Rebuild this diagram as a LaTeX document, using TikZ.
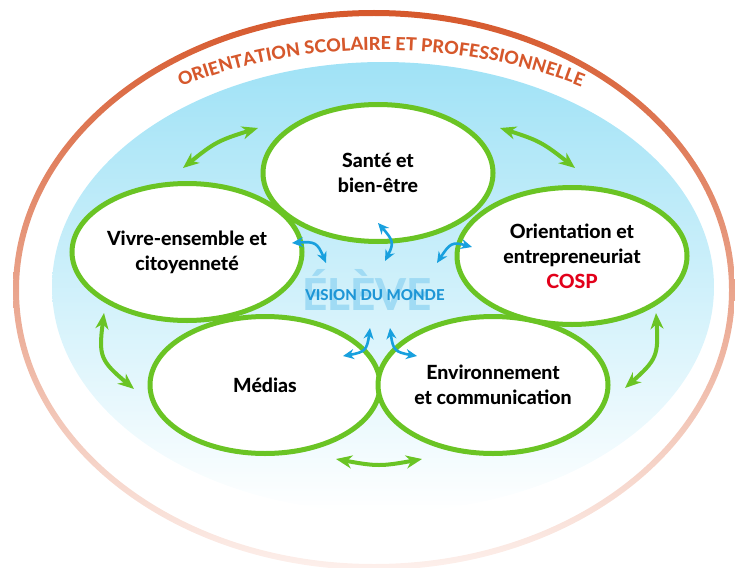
\documentclass[tikz,border=0pt]{standalone}
\usepackage{fontspec}
\setmainfont{Lato}
\IfFontExistsTF{Lato-Heavy.ttf}{\newfontfamily\heavysans{Lato-Heavy.ttf}%
  \def\themesize{19.5}\def\arcsize{18}\def\visionsize{15}\def\elevesize{44}}{%
 \IfFontExistsTF{Lato-Bold.ttf}{\newfontfamily\heavysans{Lato-Bold.ttf}%
  \def\themesize{19.5}\def\arcsize{18.5}\def\visionsize{15.5}\def\elevesize{45}}{%
  \newfontfamily\heavysans{Lato}[FakeBold=2]%
  \def\themesize{19.5}\def\arcsize{18.5}\def\visionsize{15.5}\def\elevesize{45}}}
\usetikzlibrary{shapes.geometric,arrows.meta,decorations.text,bending}
\definecolor{ringtop}{RGB}{214,88,44}
\definecolor{ringmid}{RGB}{236,160,136}
\definecolor{ringbot}{RGB}{253,240,236}
\definecolor{skytop}{RGB}{160,226,246}
\definecolor{skymid}{RGB}{208,241,251}
\definecolor{leaf}{RGB}{106,196,36}
\definecolor{arrowblue}{RGB}{24,160,222}
\definecolor{elevecol}{RGB}{160,219,244}
\definecolor{visionblue}{RGB}{30,150,214}
\definecolor{cospred}{RGB}{226,0,26}
\definecolor{ringtext}{RGB}{214,88,44}
\begin{document}
\begin{tikzpicture}[x=1pt,y=-1pt,
  theme/.style={ellipse, draw=leaf, line width=5pt, fill=white,
    minimum width=230pt, minimum height=137pt, inner sep=0pt, align=center,
    font=\heavysans\fontsize{\themesize}{25}\selectfont},
  linkarrow/.style={draw=leaf, line width=4pt,
    {Stealth[length=16pt,width=13pt,inset=5pt]}-{Stealth[length=16pt,width=13pt,inset=5pt]}},
  centerarrow/.style={draw=arrowblue, line width=2.6pt,
    {Stealth[length=11pt,width=10pt,inset=3.5pt]}-{Stealth[length=11pt,width=10pt,inset=3.5pt]}},
  arctitle/.style={decorate, decoration={text along path, text align=center,
   text color=ringtext,
   text={|\heavysans\fontsize{\arcsize}{\arcsize}\selectfont|ORIENTATION SCOLAIRE ET PROFESSIONNELLE}}}
]
\useasboundingbox (0,0) rectangle (735,567);
% outer ring
\shade[top color=ringtop, middle color=ringmid, bottom color=ringbot, even odd rule]
  (374,290) ellipse [x radius=361, y radius=280]
  (374,290) ellipse [x radius=355, y radius=274];
% sky ellipse
\shade[top color=skytop, middle color=skymid, bottom color=white]
  (383,287) ellipse [x radius=331, y radius=225];
% arc title
\path[arctitle]
  (381,290) ++(-165:376 and 240) arc[start angle=-165, end angle=-15, x radius=376, y radius=240];
% themes
\node[theme] (medias) at (265,385) {Médias};
\node[theme] (env) at (493,385) {Environnement\\et communication};
\node[theme] (vivre) at (187,252) {Vivre-ensemble et\\citoyenneté};
\node[theme] (sante) at (378,173) {Santé et\\bien-être};
\node[theme] (orient) at (572,256) {Orientation et\\entrepreneuriat\\\textcolor{cospred}{COSP}};
% centre
\node[font=\heavysans\fontsize{\elevesize}{\elevesize}\selectfont, text=elevecol, anchor=base, inner sep=0pt] (eleve) at (367,310) {ÉLÈVE};
\node[font=\heavysans\fontsize{\visionsize}{\visionsize}\selectfont, text=visionblue, anchor=base, inner sep=0pt] (vision) at (375,300) {VISION DU MONDE};
% green arrows
\coordinate (g1a) at (183,168); \coordinate (g1b) at (258,128); \coordinate (g1c) at (216,141);
\coordinate (g2a) at (500,128); \coordinate (g2b) at (575,168); \coordinate (g2c) at (541,141);
\coordinate (g3a) at (104,313); \coordinate (g3b) at (134,389); \coordinate (g3c) at (98,359);
\coordinate (g4a) at (656,313); \coordinate (g4b) at (625,388); \coordinate (g4c) at (659,358);
\coordinate (g5a) at (336,459); \coordinate (g5b) at (422,459); \coordinate (g5c) at (379,467);
\draw[linkarrow] (g1a) .. controls (g1c) .. (g1b);
\draw[linkarrow] (g2a) .. controls (g2c) .. (g2b);
\draw[linkarrow] (g3a) .. controls (g3c) .. (g3b);
\draw[linkarrow] (g4a) .. controls (g4c) .. (g4b);
\draw[linkarrow] (g5a) .. controls (g5c) .. (g5b);
% blue arrows
\coordinate (b1a) at (292,243); \coordinate (b1b) at (326,263); \coordinate (b1c) at (317,241);
\coordinate (b2a) at (378,223); \coordinate (b2b) at (385,261); \coordinate (b2c) at (395,242);
\coordinate (b3a) at (472,247); \coordinate (b3b) at (437,263); \coordinate (b3c) at (451,241);
\coordinate (b4a) at (370,328); \coordinate (b4b) at (343,356); \coordinate (b4c) at (367,352);
\coordinate (b5a) at (390,328); \coordinate (b5b) at (417,356); \coordinate (b5c) at (393,352);
\draw[centerarrow] (b1a) .. controls (b1c) .. (b1b);
\draw[centerarrow] (b2a) .. controls (b2c) .. (b2b);
\draw[centerarrow] (b3a) .. controls (b3c) .. (b3b);
\draw[centerarrow] (b4a) .. controls (b4c) .. (b4b);
\draw[centerarrow] (b5a) .. controls (b5c) .. (b5b);
\end{tikzpicture}
\end{document}
